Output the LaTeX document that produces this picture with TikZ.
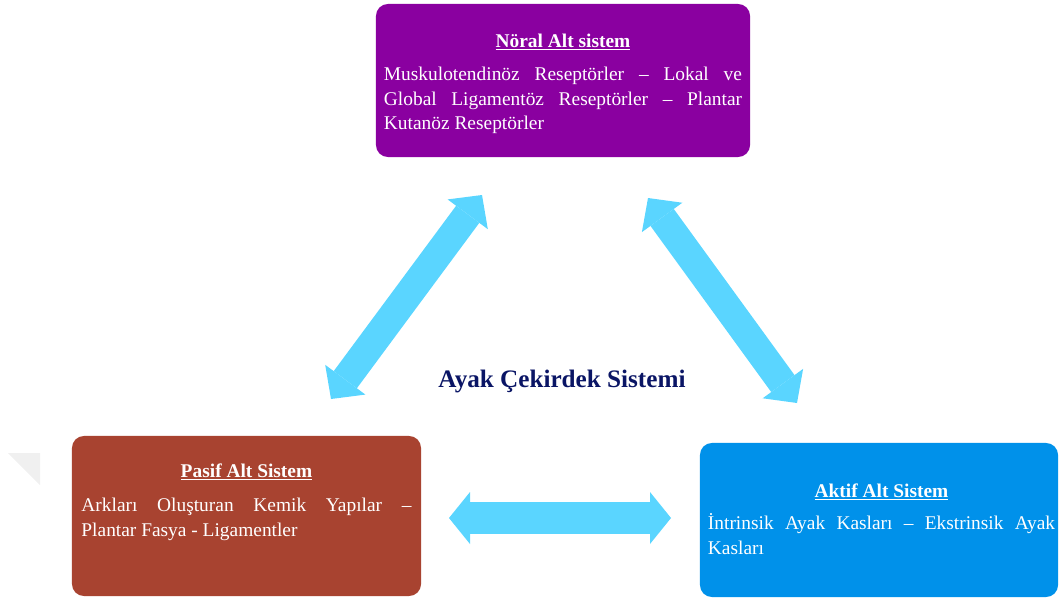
\documentclass[tikz,border=0pt]{standalone}
\usepackage{fontspec}
\setmainfont{Liberation Serif}
\usetikzlibrary{arrows.meta}

\definecolor{noralpurple}{HTML}{8A00A0}
\definecolor{pasifbrown}{HTML}{A84330}
\definecolor{aktifblue}{HTML}{0091EA}
\definecolor{linkblue}{HTML}{5AD5FF}
\definecolor{corenavy}{HTML}{0A1565}

\begin{document}
\begin{tikzpicture}[
    x=0.025cm, y=-0.025cm,
    subsystem/.style={
        rectangle,
        rounded corners=0.3cm,
        draw=none,
        inner sep=0pt
    },
    boxtext/.style={
        anchor=north,
        inner sep=0pt,
        align=justify,
        text=white,
        font=\fontsize{13.8}{17.7}\selectfont
    },
    link/.style={
        linkblue,
        line width=0.72cm,
        {Triangle[line width=0pt, length=0.6cm, width=1.25cm]}-{Triangle[line width=0pt, length=0.6cm, width=1.25cm]}
    }
    ]
    \useasboundingbox (0,0) rectangle (1059,599);

    % faint shadow piece at the left edge
    \fill[black!6] (8,453) -- (40,453) -- (40,485) -- cycle;

    % the three subsystems
    \node[subsystem, fill=noralpurple, minimum width=9.35cm, minimum height=3.825cm] (noral) at (563,80.5) {};
    \node[subsystem, fill=pasifbrown, minimum width=8.725cm, minimum height=4cm] (pasif) at (246.5,516) {};
    \node[subsystem, fill=aktifblue, minimum width=8.95cm, minimum height=3.85cm] (aktif) at (879,520) {};

    \node[boxtext, text width=8.95cm] (noraltext) at (563,33.5) {%
        {\centering\underline{\textbf{Nöral Alt sistem}}\par}\vspace{5.7pt}%
        Muskulotendinöz Reseptörler \textendash{} Lokal ve\linebreak
        Global Ligamentöz Reseptörler \textendash{} Plantar\linebreak
        Kutanöz Reseptörler};
    \node[boxtext, text width=8.25cm] (pasiftext) at (246.5,463.5) {%
        {\centering\underline{\textbf{Pasif Alt Sistem}}\par}\vspace{6.4pt}%
        Arkları Oluşturan Kemik Yapılar \textendash\linebreak
        Plantar Fasya - Ligamentler};
    \node[boxtext, text width=8.675cm] (aktiftext) at (881.5,483.5) {%
        {\centering\underline{\textbf{Aktif Alt Sistem}}\par}\vspace{5pt}%
        İntrinsik Ayak Kasları \textendash{} Ekstrinsik Ayak\linebreak
        Kasları};

    % core label
    \node[anchor=base, inner sep=0pt, text=corenavy,
          font=\fontsize{17.9}{21}\selectfont\bfseries] (core) at (562,387) {Ayak Çekirdek Sistemi};

    % links between subsystems
    \coordinate (lbot) at (331,399);
    \coordinate (ltop) at (482,195);
    \coordinate (rtop) at (648,198);
    \coordinate (rbot) at (797,403);
    \coordinate (hleft) at (449,518);
    \coordinate (hright) at (671,518);

    \draw[link] (lbot) -- (ltop);
    \draw[link] (rtop) -- (rbot);
    \draw[link, line width=0.8cm,
        {Triangle[line width=0pt, length=0.525cm, width=1.3cm]}-{Triangle[line width=0pt, length=0.525cm, width=1.3cm]}]
        (hleft) -- (hright);
\end{tikzpicture}
\end{document}
